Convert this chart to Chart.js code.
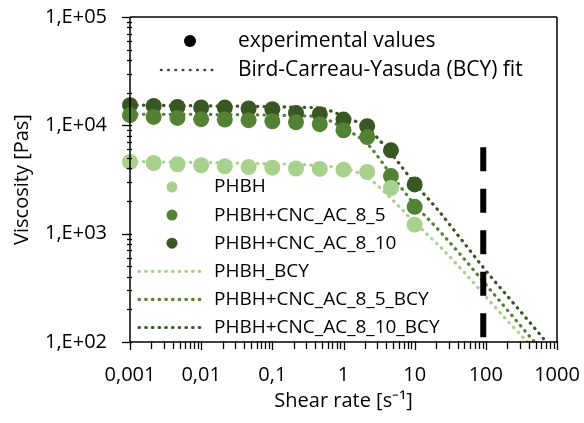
<!DOCTYPE html>
<html>
<head>
<meta charset="utf-8">
<script src="https://cdn.jsdelivr.net/npm/chart.js@4.4.1/dist/chart.umd.min.js"></script>
<style>
  html, body { margin: 0; padding: 0; background: #fff; }
  #wrap { width: 584px; height: 423px; }
</style>
</head>
<body>
<div id="wrap"><canvas id="viscosityChart"></canvas></div>
<script>
// measured shear rates [1/s]
const shearRate = [0.001, 0.00215, 0.00464, 0.01, 0.0215, 0.0464, 0.1, 0.215, 0.464, 1, 2.15, 4.64, 10];
// experimental viscosity [Pas]
const phbh = [4590, 4490, 4370, 4280, 4180, 4120, 4070, 3990, 3960, 3900, 3710, 2640, 1210];
const phbhCnc5 = [12400, 11960, 11710, 11390, 11320, 11150, 10910, 10680, 10240, 9010, 7790, 3400, 1770];
const phbhCnc10 = [15350, 15120, 14800, 14610, 14610, 14300, 14090, 13020, 12660, 11300, 9810, 5880, 2850];

// BCY fit
const fitRate = [0.001, 0.00215, 0.00464, 0.01, 0.0215, 0.0464, 0.1, 0.215, 0.464, 1, 2.15, 4.64, 10, 21.5, 46.4, 100, 215, 464, 1000];
const phbhBcy = [4650, 4610, 4560, 4560, 4510, 4460, 4410, 4370, 4230, 4010, 3310, 2120, 1270, 785, 462, 262, 150, 88, 50];
const phbhCnc5Bcy = [12660, 12660, 12660, 12660, 12530, 12530, 12400, 12270, 11880, 9400, 6760, 3530, 1860, 1090, 615, 339, 187, 103, 58];
const phbhCnc10Bcy = [15340, 15340, 15180, 15180, 15020, 15020, 14860, 14700, 14390, 12140, 9400, 5520, 2910, 1640, 865, 456, 252, 139, 76];

// vertical dashed marker
const markerRate = [92, 92];
const markerVisc = [6270, 100];

const seriesNames = ['PHBH', 'PHBH+CNC_AC_8_5', 'PHBH+CNC_AC_8_10'];
const fitNames = ['PHBH_BCY', 'PHBH+CNC_AC_8_5_BCY', 'PHBH+CNC_AC_8_10_BCY'];
const colores = ['#a9d18e', '#548235', '#385723'];

const FONT = "'Open Sans', sans-serif";

function pares(xs, ys) {
  return xs.map((x, i) => ({ x: x, y: ys[i] }));
}

function exponente(v) {
  const e = Math.log10(v);
  return Math.abs(e - Math.round(e)) < 1e-6 ? Math.round(e) : null;
}

function esEntero(v) {
  const m = v / Math.pow(10, Math.floor(Math.log10(v) + 1e-9));
  return Math.abs(m - Math.round(m)) < 1e-6;
}

function puntos(idx, valores) {
  return {
    label: seriesNames[idx],
    data: pares(shearRate, valores),
    backgroundColor: colores[idx],
    borderColor: colores[idx],
    borderWidth: 0,
    pointRadius: 8,
    pointHoverRadius: 8,
    showLine: false,
    clip: false
  };
}

function ajuste(idx, valores) {
  return {
    label: fitNames[idx],
    data: pares(fitRate, valores),
    borderColor: colores[idx],
    borderWidth: 3.2,
    borderDash: [0.5, 6.2],
    borderCapStyle: 'round',
    pointRadius: 0,
    showLine: true,
    cubicInterpolationMode: 'monotone'
  };
}

function linea(c, x1, y1, x2, y2) {
  c.beginPath();
  c.moveTo(x1, y1);
  c.lineTo(x2, y2);
  c.stroke();
}

// ticks, frame and the two legends drawn on top
const marcoYLeyenda = {
  id: 'marcoYLeyenda',
  afterDraw(chart) {
    const ctx = chart.ctx;
    const a = chart.chartArea;
    ctx.save();
    ctx.strokeStyle = '#000';
    ctx.lineWidth = 1.5;
    linea(ctx, a.left, a.top, a.right, a.top);
    linea(ctx, a.right, a.top, a.right, a.bottom);
    linea(ctx, a.left, a.bottom, a.right, a.bottom);
    linea(ctx, a.left, a.top, a.left, a.bottom);

    ctx.lineWidth = 1.3;
    const ys = chart.scales.y;
    ys.ticks.forEach(t => {
      if (!esEntero(t.value)) return;
      const py = Math.round(ys.getPixelForValue(t.value)) + 0.5;
      const mayor = exponente(t.value) !== null;
      linea(ctx, a.left - (mayor ? 8 : 3), py, a.left + 2, py);
    });
    const xs = chart.scales.x;
    xs.ticks.forEach(t => {
      if (!esEntero(t.value)) return;
      const px = Math.round(xs.getPixelForValue(t.value)) + 0.5;
      const mayor = exponente(t.value) !== null;
      linea(ctx, px, a.bottom - 1, px, a.bottom + (mayor ? 8 : 7));
    });

    // top legend
    ctx.fillStyle = '#000';
    ctx.textBaseline = 'middle';
    ctx.textAlign = 'left';
    ctx.font = '21px ' + FONT;
    ctx.beginPath();
    ctx.arc(190, 41, 6, 0, Math.PI * 2);
    ctx.fill();
    ctx.fillText('experimental values', 238, 41);
    ctx.strokeStyle = '#404040';
    ctx.lineWidth = 2.6;
    ctx.lineCap = 'round';
    ctx.setLineDash([0.5, 6.75]);
    linea(ctx, 161, 70, 218, 70);
    ctx.setLineDash([]);
    ctx.fillText('Bird-Carreau-Yasuda (BCY) fit', 238, 70);

    // series legend
    ctx.font = '19px ' + FONT;
    const items = [];
    seriesNames.forEach((n, i) => items.push({ n: n, c: colores[i], tipo: 'punto' }));
    fitNames.forEach((n, i) => items.push({ n: n, c: colores[i], tipo: 'linea' }));
    items.forEach((it, i) => {
      const y = 187 + i * 28.1;
      if (it.tipo === 'punto') {
        ctx.fillStyle = it.c;
        ctx.beginPath();
        ctx.arc(172, y, 5.5, 0, Math.PI * 2);
        ctx.fill();
      } else {
        ctx.strokeStyle = it.c;
        ctx.lineWidth = 3.2;
        ctx.setLineDash([0.5, 6.2]);
        linea(ctx, 139, y, 203, y);
        ctx.setLineDash([]);
      }
      ctx.fillStyle = '#000';
      ctx.fillText(it.n, 214, y);
    });
    ctx.restore();
  }
};

const ctx = document.getElementById('viscosityChart').getContext('2d');
const chartViscosidad = new Chart(ctx, {
  type: 'scatter',
  data: {
    datasets: [
      {
        label: 'cutoff',
        data: pares(markerRate, markerVisc),
        borderColor: '#000',
        borderWidth: 6,
        borderDash: [24, 17.5],
        pointRadius: 0,
        showLine: true
      },
      puntos(0, phbh),
      puntos(1, phbhCnc5),
      puntos(2, phbhCnc10),
      ajuste(0, phbhBcy),
      ajuste(1, phbhCnc5Bcy),
      ajuste(2, phbhCnc10Bcy)
    ]
  },
  options: {
    responsive: true,
    maintainAspectRatio: false,
    animation: false,
    events: [],
    layout: { padding: { top: 17, right: 27, left: 0, bottom: 0 } },
    plugins: {
      legend: { display: false },
      tooltip: { enabled: false }
    },
    scales: {
      x: {
        type: 'logarithmic',
        min: 0.001,
        max: 1000,
        grid: { display: false, drawTicks: false },
        border: { display: false },
        ticks: {
          autoSkip: false,
          maxRotation: 0,
          padding: 21,
          color: '#000',
          font: { family: FONT, size: 20 },
          callback: (v) => {
            const e = exponente(v);
            return e === null ? '' : String(Math.pow(10, e)).replace('.', ',');
          }
        },
        title: {
          display: true,
          text: 'Shear rate [s⁻¹]',
          color: '#000',
          font: { family: FONT, size: 20 },
          padding: 10
        },
        afterFit: (s) => {
          s.height = 81;
          s.paddingLeft = 0;
          s.paddingRight = 0;
        }
      },
      y: {
        type: 'logarithmic',
        min: 100,
        max: 100000,
        grid: { display: false, drawTicks: false },
        border: { display: false },
        ticks: {
          autoSkip: false,
          padding: 23,
          color: '#000',
          font: { family: FONT, size: 20 },
          callback: (v) => {
            const e = exponente(v);
            return e === null ? '' : '1,E' + (e >= 0 ? '+' : '-') + String(Math.abs(e)).padStart(2, '0');
          }
        },
        title: {
          display: true,
          text: 'Viscosity [Pas]',
          color: '#000',
          font: { family: FONT, size: 20 },
          padding: 10
        },
        afterFit: (s) => {
          s.width = 130;
          s.paddingTop = 0;
          s.paddingBottom = 0;
        }
      }
    }
  },
  plugins: [marcoYLeyenda]
});
</script>
</body>
</html>
